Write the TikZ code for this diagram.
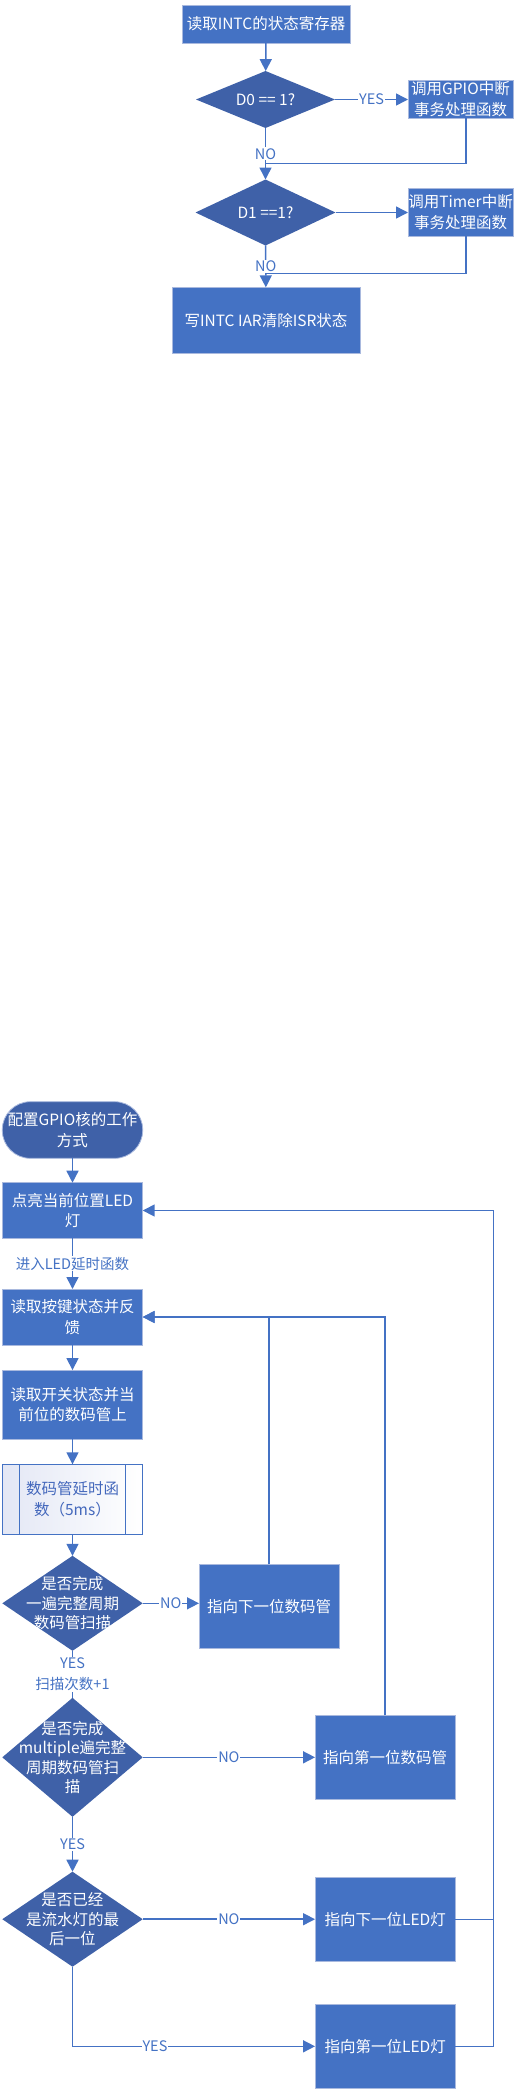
\documentclass[tikz,border=0pt]{standalone}
\usepackage{fontspec}
\setmainfont{Noto Sans CJK SC}
\usetikzlibrary{shapes.geometric,arrows.meta,calc}
\definecolor{boxblue}{HTML}{4472C4}
\definecolor{diamblue}{HTML}{3F61A8}
\definecolor{edgeblue}{HTML}{A9B9DE}
\definecolor{lineblue}{HTML}{4472C4}
\definecolor{predtext}{HTML}{4468BC}
\definecolor{predleft}{HTML}{E3E7F5}
\tikzset{
  base/.style={inner sep=0pt, outer sep=0pt, align=center, text=white,
    font=\fontsize{15.5}{20.5}\selectfont},
  procbox/.style={base, rectangle, fill=boxblue, draw=edgeblue, line width=1pt},
  termbox/.style={base, rectangle, rounded corners=28pt, fill=diamblue, draw=edgeblue, line width=0.8pt},
  predbox/.style={base, rectangle, left color=predleft, right color=white, draw=lineblue,
    line width=1pt, text=predtext},
  predline/.style={draw=lineblue, line width=1pt},
  decbox/.style={diamond, fill=diamblue, inner sep=0pt, outer sep=0pt, draw=none},
  dectext/.style={base, font=\fontsize{15.5}{19.5}\selectfont},
  flow/.style={draw=lineblue, line width=1.5pt},
  arr/.style={flow, -{Triangle[length=12pt,width=12pt]}},
  lab/.style={fill=white, inner sep=1pt, text=lineblue, align=center,
    font=\fontsize{14.5}{21}\selectfont},
}
\begin{document}
\begin{tikzpicture}[x=1pt,y=-1pt]
\useasboundingbox (0,0) rectangle (526,2094);

% ---------------- top flow ----------------
\node[procbox, minimum width=168pt, minimum height=38pt] (n1) at (266,24) {读取INTC的状态寄存器};
\node[decbox, minimum width=139pt, minimum height=57pt] (d0) at (265.5,99.5) {};
\node[dectext] (d0t) at (d0) {D0 == 1?};
\node[procbox, minimum width=105pt, minimum height=38pt] (g1) at (460.5,99) {调用GPIO中断\\事务处理函数};
\node[decbox, minimum width=140pt, minimum height=66pt] (d1) at (265.5,212.5) {};
\node[dectext] (d1t) at (d1) {D1 ==1?};
\node[procbox, minimum width=105pt, minimum height=48pt] (t1) at (460.5,212) {调用Timer中断\\事务处理函数};
\node[procbox, minimum width=188pt, minimum height=66pt] (w1) at (266,320.3) {写INTC IAR清除ISR状态};
\coordinate (j1) at (266,163.3);
\coordinate (j2) at (266,273.3);

\draw[arr] (n1) -- (d0);
\draw[arr] (d0.east) -- node[lab]{YES} (g1.west |- d0.east);
\draw[arr] (d0) -- node[lab]{NO} (d1);
\draw[flow] ($(g1.south)+(5.5,0)$) |- (j1);
\draw[arr] (d1.east) -- (t1.west |- d1.east);
\draw[arr] (d1) -- node[lab]{NO} (w1);
\draw[flow] ($(t1.south)+(5.5,0)$) |- (j2);

% ---------------- bottom flow ----------------
\node[termbox, minimum width=140.4pt, minimum height=56.6pt] (s0) at (72.5,1130) {配置GPIO核的工作\\方式};
\node[procbox, minimum width=140.4pt, minimum height=55.6pt] (b1) at (72.5,1210.5) {点亮当前位置LED\\灯};
\node[procbox, minimum width=140.4pt, minimum height=56pt] (b2) at (72.5,1317) {读取按键状态并反\\馈};
\node[procbox, minimum width=140.4pt, minimum height=69.3pt] (b3) at (72.5,1404.7) {读取开关状态并当\\前位的数码管上};
\node[predbox, minimum width=140.4pt, minimum height=70pt] (b4) at (72.5,1499.3) {数码管延时函\\数（5ms）};
\draw[predline] ($(b4.north west)+(17,0)$) -- ($(b4.south west)+(17,0)$);
\draw[predline] ($(b4.north east)+(-17,0)$) -- ($(b4.south east)+(-17,0)$);

\node[decbox, minimum width=140.4pt, minimum height=95pt] (q1) at (72.5,1603.3) {};
\node[dectext] (q1t) at (q1) {是否完成\\一遍完整周期\\数码管扫描};
\node[procbox, minimum width=140pt, minimum height=84.4pt] (r1) at (269,1606.5) {指向下一位数码管};

\node[decbox, minimum width=140.4pt, minimum height=119pt] (q2) at (72.5,1757.3) {};
\node[dectext] (q2t) at (q2) {是否完成\\multiple遍完整\\周期数码管扫\\描};
\node[procbox, minimum width=140.3pt, minimum height=84pt] (r2) at (385.2,1757.3) {指向第一位数码管};

\node[decbox, minimum width=140.4pt, minimum height=95pt] (q3) at (72.5,1919.2) {};
\node[dectext] (q3t) at (q3) {是否已经\\是流水灯的最\\后一位};
\node[procbox, minimum width=140.3pt, minimum height=84pt] (r3) at (385.2,1919.7) {指向下一位LED灯};
\node[procbox, minimum width=140.3pt, minimum height=84pt] (r4) at (385.2,2046.3) {指向第一位LED灯};

\draw[arr] (s0) -- (b1);
\draw[arr] (b1) -- node[lab]{进入LED延时函数} (b2);
\draw[arr] (b2) -- (b3);
\draw[arr] (b3) -- (b4);
\draw[arr] (b4) -- (q1);
\draw[arr] (q1.east) -- node[lab]{NO} (q1.east -| r1.west);
\draw[arr] (r1.north) |- (b2.east);
\draw[flow] (q1) -- node[lab]{YES\\扫描次数+1} (q2);
\draw[arr] (q2.east) -- node[lab]{NO} (r2.west);
\draw[arr] (r2.north) |- (b2.east);
\draw[arr] (q2) -- node[lab]{YES} (q3);
\draw[arr] (q3.east) -- node[lab]{NO} (q3.east -| r3.west);
\draw[arr] (q3.south) |- node[lab, pos=0.67]{YES} (r4.west);
\draw[arr] (r3.east) -- ++(38,0) |- (b1.east);
\draw[flow] (r4.east) -| ($(r3.east)+(38,0)$);
\end{tikzpicture}
\end{document}
